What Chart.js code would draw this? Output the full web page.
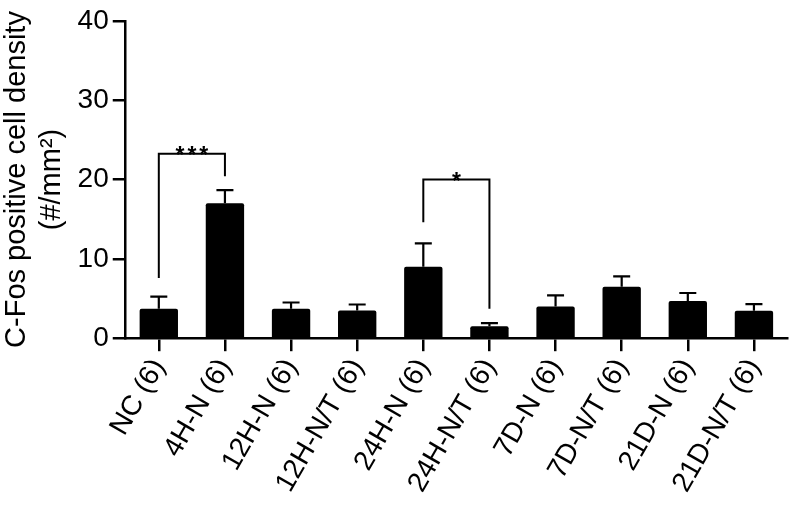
<!DOCTYPE html>
<html>
<head>
<meta charset="utf-8">
<script src="https://cdn.jsdelivr.net/npm/chart.js@4.4.1/dist/chart.umd.min.js"></script>
<style>
  html, body { margin: 0; padding: 0; background: #fff; }
  #wrap { width: 789px; height: 509px; }
</style>
</head>
<body>
<div id="wrap"><canvas id="chart"></canvas></div>
<script>
// Dados
const grupos = ['NC (6)', '4H-N (6)', '12H-N (6)', '12H-N/T (6)', '24H-N (6)',
                '24H-N/T (6)', '7D-N (6)', '7D-N/T (6)', '21D-N (6)', '21D-N/T (6)'];
const medias = [3.7, 17.0, 3.7, 3.5, 9.0, 1.5, 4.0, 6.5, 4.7, 3.45];
const erros = [1.55, 1.65, 0.8, 0.75, 2.95, 0.4, 1.4, 1.3, 1.0, 0.85];
const yTicks = [0, 10, 20, 30, 40];

// Colchetes de significância (índices dos grupos e alturas em unidades do eixo)
const sigPares = [[0, 1], [4, 5]];
const sigTopo = [23.25, 20.0];
const sigInicio = [7.6, 14.6];
const sigFim = [20.4, 3.7];
const sigTexto = ['***', '*'];

const fonte = "'Liberation Sans', Arial, Helvetica, sans-serif";

// Plugin para as barras de erro (só a parte de cima)
const barrasErro = {
    id: 'barrasErro',
    afterDatasetsDraw(chart) {
        const ctx = chart.ctx;
        const y = chart.scales.y;
        const meta = chart.getDatasetMeta(0);
        ctx.save();
        ctx.strokeStyle = '#000';
        ctx.lineWidth = 2.2;
        meta.data.forEach((bar, i) => {
            const topo = y.getPixelForValue(medias[i] + erros[i]);
            const base = y.getPixelForValue(medias[i]);
            ctx.beginPath();
            ctx.moveTo(bar.x, base);
            ctx.lineTo(bar.x, topo);
            ctx.moveTo(bar.x - 8.5, topo);
            ctx.lineTo(bar.x + 8.5, topo);
            ctx.stroke();
        });
        ctx.restore();
    }
};

// Plugin para os colchetes com asteriscos
const colchetes = {
    id: 'colchetes',
    afterDatasetsDraw(chart) {
        const ctx = chart.ctx;
        const y = chart.scales.y;
        const meta = chart.getDatasetMeta(0);
        ctx.save();
        ctx.strokeStyle = '#000';
        ctx.fillStyle = '#000';
        ctx.lineWidth = 2;
        sigPares.forEach((par, k) => {
            const x1 = meta.data[par[0]].x;
            const x2 = meta.data[par[1]].x;
            const yt = y.getPixelForValue(sigTopo[k]);
            ctx.beginPath();
            ctx.moveTo(x1, y.getPixelForValue(sigInicio[k]));
            ctx.lineTo(x1, yt);
            ctx.lineTo(x2, yt);
            ctx.lineTo(x2, y.getPixelForValue(sigFim[k]));
            ctx.stroke();
            ctx.font = 'bold 23px ' + fonte;
            ctx.letterSpacing = '3px';
            ctx.textAlign = 'center';
            ctx.textBaseline = 'alphabetic';
            ctx.fillText(sigTexto[k], (x1 + x2) / 2 + 1.5, yt + 9);
        });
        ctx.restore();
    }
};

const ctx = document.getElementById('chart').getContext('2d');
new Chart(ctx, {
    type: 'bar',
    data: {
        labels: grupos,
        datasets: [{
            data: medias,
            backgroundColor: '#000',
            borderRadius: 2,
            borderSkipped: 'bottom',
            barPercentage: 0.58,
            categoryPercentage: 1.0
        }]
    },
    options: {
        responsive: true,
        maintainAspectRatio: false,
        animation: false,
        events: [],
        layout: { padding: { left: 0, right: 2, top: 0, bottom: 9 } },
        plugins: {
            legend: { display: false },
            tooltip: { enabled: false }
        },
        scales: {
            x: {
                offset: true,
                grid: {
                    offset: false,
                    drawOnChartArea: false,
                    color: '#000',
                    lineWidth: 2.5,
                    tickLength: 13
                },
                border: { color: '#000', width: 2.5 },
                ticks: {
                    color: '#000',
                    font: { family: fonte, size: 28 },
                    maxRotation: 60,
                    minRotation: 60,
                    autoSkip: false,
                    padding: 2
                }
            },
            y: {
                min: 0,
                max: 40,
                afterBuildTicks(scale) {
                    scale.ticks = yTicks.map(v => ({ value: v }));
                },
                grid: {
                    drawOnChartArea: false,
                    color: '#000',
                    lineWidth: 2.5,
                    tickLength: 13
                },
                border: { color: '#000', width: 2.5 },
                ticks: {
                    color: '#000',
                    font: { family: fonte, size: 28 },
                    padding: 4
                },
                title: {
                    display: true,
                    text: ['C-Fos positive cell density', '(#/mm²)'],
                    color: '#000',
                    font: { family: fonte, size: 29, lineHeight: 1.2 },
                    padding: { top: 0, bottom: 4 }
                }
            }
        }
    },
    plugins: [barrasErro, colchetes]
});
</script>
</body>
</html>
